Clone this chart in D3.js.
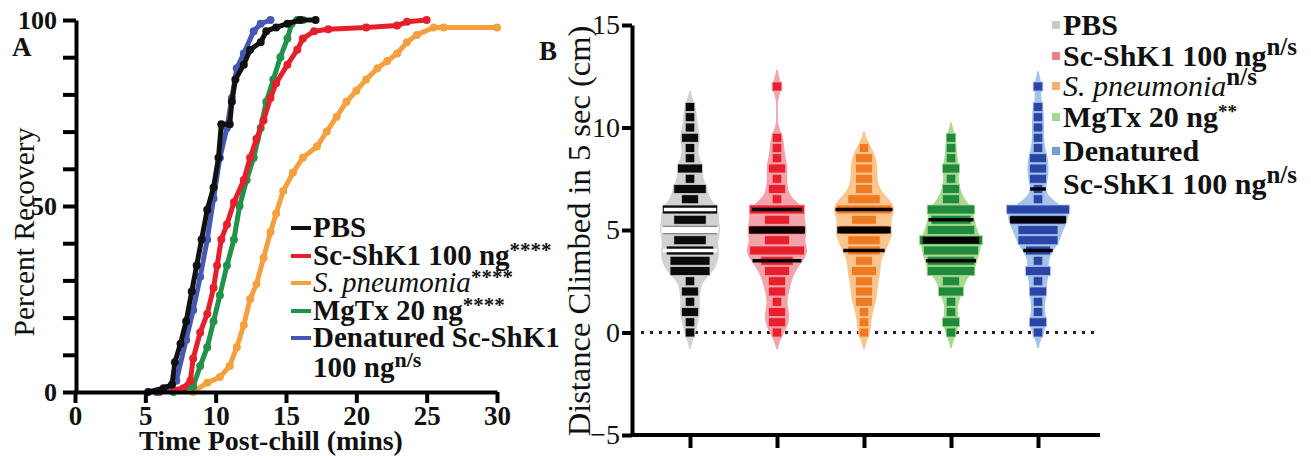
<!DOCTYPE html>
<html>
<head>
<meta charset="utf-8">
<script src="https://cdn.jsdelivr.net/npm/d3@7"></script>
<style>
body { margin: 0; background: #fff; }
svg text { font-family: "Liberation Serif", "Times New Roman", serif !important; fill: #111; }
</style>
</head>
<body>
<svg id="fig" width="1311" height="456"></svg>
<script>
// ---- panel A : recovery curves (time in mins, percent recovered) ----
var pbsTime  = [5.2, 6.3, 6.9, 7.1, 7.5, 7.9, 8.3, 8.65, 9.0, 9.4, 9.85, 10.2, 10.4, 11.0, 11.15, 11.4, 12.0, 12.45, 13.2, 13.6, 14.3, 15.1, 16.0, 17.1];
var pbsPct   = [0, 1, 2, 8, 13, 19, 27, 34, 41, 49, 55, 63, 72, 72, 78, 84, 88, 92, 94, 97, 98, 99, 100, 100];
var shkTime  = [6.0, 7.7, 8.2, 8.4, 8.9, 9.4, 9.85, 10.1, 10.4, 10.8, 11.3, 12.0, 12.45, 12.9, 13.4, 13.9, 14.3, 15.1, 15.8, 16.2, 17.0, 18.0, 20.7, 22.9, 23.6, 25.0];
var shkPct   = [0, 1, 3, 9, 16, 21, 28, 34, 41, 45, 51, 57, 63, 68, 73, 79, 83, 88, 92, 95, 97, 97.5, 98, 98.5, 99.5, 100];
var pneuTime = [8.4, 9.4, 10.3, 11.0, 11.5, 12.0, 12.45, 12.9, 13.4, 13.9, 14.3, 14.8, 15.5, 16.2, 17.2, 17.9, 18.6, 19.3, 20.0, 20.7, 21.5, 22.2, 22.9, 23.6, 24.3, 25.5, 26.2, 30.0];
var pneuPct  = [0, 2.5, 4, 7, 12, 18, 25, 29, 36, 43, 48, 54, 59, 63, 66, 70, 74, 78, 81, 84, 87, 89, 91, 94, 96, 98, 98, 98];
var mgtxTime = [7.0, 8.4, 8.9, 9.4, 9.85, 10.3, 10.8, 11.3, 11.7, 12.2, 12.7, 13.2, 13.6, 14.1, 14.6, 15.1, 15.4, 15.8, 16.2];
var mgtxPct  = [0, 1.5, 7, 12, 19, 26, 34, 41, 50, 57, 63, 71, 78, 84, 90, 95, 99, 100, 100];
var denTime  = [5.8, 6.5, 7.2, 7.9, 8.4, 8.9, 9.4, 9.85, 10.3, 10.8, 11.15, 11.5, 12.0, 12.7, 13.2, 13.9];
var denPct   = [0, 1, 3, 14, 22, 31, 41, 52, 63, 71, 79, 87, 91, 97, 99, 100];

var curveNames  = ["PBS", "Sc-ShK1 100 ng", "S. pneumonia", "MgTx 20 ng", "Denatured Sc-ShK1"];
var curveSig    = ["", "****", "****", "****", "n/s"];
var curveColors = ["#111111", "#e5202b", "#f5a03e", "#22924a", "#4758b2"];

// ---- panel B : distance climbed, counts of flies at each 0.5 cm level ----
var climbLevels = [0, 0.5, 1, 1.5, 2, 2.5, 3, 3.5, 4, 4.5, 5, 5.5, 6, 6.5, 7, 7.5, 8, 8.5, 9, 9.5, 10, 10.5, 11, 11.5, 12];
var pbsCounts   = [1, 1, 2, 1, 2, 1, 5, 5, 6, 4, 7, 4, 7, 2, 4, 1, 3, 1, 1, 2, 1, 1, 1, 0, 0];
var shkCounts   = [1, 2, 2, 1, 2, 2, 3, 4, 7, 3, 7, 3, 7, 1, 2, 1, 2, 1, 1, 1, 0, 0, 0, 0, 1];
var pneuCounts  = [1, 1, 1, 2, 2, 2, 3, 2, 4, 4, 6, 3, 7, 4, 2, 2, 2, 2, 1, 0, 0, 0, 0, 0, 0];
var mgtxCounts  = [1, 2, 1, 1, 3, 2, 6, 6, 7, 8, 6, 5, 6, 2, 2, 1, 2, 1, 1, 1, 0, 0, 0, 0, 0];
var denCounts   = [1, 2, 1, 1, 2, 1, 3, 1, 3, 5, 5, 7, 8, 1, 1, 2, 2, 2, 1, 1, 1, 1, 1, 0, 1];
var climbQ1     = [4, 3.5, 4, 3.5, 4];
var climbMedian = [5, 5, 5, 4.5, 5.5];
var climbQ3     = [6, 6, 6, 5.5, 7];

var groupNames   = ["PBS", "Sc-ShK1 100 ng", "S. pneumonia", "MgTx 20 ng", "Denatured"];
var groupSig     = ["", "n/s", "n/s", "**", ""];
var violinColors = ["#d2d2d2", "#f3a3aa", "#f9c690", "#a7d98f", "#a6c4ea"];
var dotColors    = ["#0a0a0a", "#e8202e", "#f07a24", "#1f8a3c", "#2a45a6"];
var keyColors    = ["#c8c8c8", "#f0808a", "#f8b06c", "#a2d891", "#6f9fd8"];

var FONT = "Liberation Serif, Times New Roman, serif";

var svg = d3.select("#fig");
svg.append("rect").attr("width", 1311).attr("height", 456).attr("fill", "#fff");

function styleAxis(g, size, weight) {
  g.attr("font-family", FONT).attr("font-size", size).attr("font-weight", weight);
  g.select(".domain").attr("stroke", "#000").attr("stroke-width", 4);
  g.selectAll(".tick line").attr("stroke", "#000").attr("stroke-width", 4);
  g.selectAll(".tick text")
    .attr("font-family", FONT)
    .attr("font-size", size)
    .attr("font-weight", weight)
    .attr("fill", "#111");
}

function addText(x, y, size, weight, str) {
  return svg.append("text")
    .attr("x", x).attr("y", y)
    .attr("font-family", FONT)
    .attr("font-size", size)
    .attr("font-weight", weight)
    .text(str);
}

// ================= PANEL A =================
var xA = d3.scaleLinear().domain([0, 30]).range([75, 497]);
var yA = d3.scaleLinear().domain([0, 100]).range([392, 20]);

var curves = [
  {t: pbsTime, p: pbsPct}, {t: shkTime, p: shkPct}, {t: pneuTime, p: pneuPct},
  {t: mgtxTime, p: mgtxPct}, {t: denTime, p: denPct}
].map(function(c, i) {
  return {color: curveColors[i], pts: c.t.map(function(t, j) { return [t, c.p[j]]; })};
});

var lineA = d3.line()
  .x(function(d) { return xA(d[0]); })
  .y(function(d) { return yA(d[1]); });

// draw order so black sits on top
[2, 3, 1, 4, 0].forEach(function(i) {
  var c = curves[i];
  svg.append("path")
    .datum(c.pts)
    .attr("d", lineA)
    .attr("fill", "none")
    .attr("stroke", c.color)
    .attr("stroke-width", 5)
    .attr("stroke-linejoin", "round");
  svg.append("g").selectAll("circle")
    .data(c.pts)
    .enter()
    .append("circle")
    .attr("cx", function(d) { return xA(d[0]); })
    .attr("cy", function(d) { return yA(d[1]); })
    .attr("r", 4)
    .attr("fill", c.color);
});

var axAx = svg.append("g")
  .attr("transform", "translate(0," + yA(0) + ")")
  .call(d3.axisBottom(xA).ticks(6).tickSize(11).tickSizeOuter(0));
styleAxis(axAx, 27, "bold");
axAx.selectAll(".tick text").attr("y", 33).attr("dy", 0);

var ayAx = svg.append("g")
  .attr("transform", "translate(" + (xA(0) + 1) + ",0)")
  .call(d3.axisLeft(yA).ticks(10).tickSize(13).tickSizeOuter(0)
    .tickFormat(function(d) { return d % 50 === 0 ? d : ""; }));
styleAxis(ayAx, 26, "bold");
ayAx.selectAll(".tick text").attr("x", -19);

addText(271, 450, 28, "bold", "Time Post-chill (mins)").attr("text-anchor", "middle");

svg.append("text")
  .attr("transform", "translate(34,232) rotate(-90)")
  .attr("text-anchor", "middle")
  .attr("font-family", FONT)
  .attr("font-size", 29.5)
  .text("Percent Recovery");

addText(12, 56, 27, "bold", "A");

// legend A
var legABase = [237, 265, 292, 320, 347];
curveNames.forEach(function(name, i) {
  var by = legABase[i];
  svg.append("line")
    .attr("x1", 291).attr("x2", 311)
    .attr("y1", by - 9).attr("y2", by - 9)
    .attr("stroke", curveColors[i]).attr("stroke-width", 4);
  var t = addText(313, by, 29, "bold", null);
  if (name.indexOf("pneumonia") >= 0) {
    t.append("tspan").attr("font-style", "italic").attr("font-weight", "normal").text(name);
  } else {
    t.append("tspan").text(name);
  }
  if (i < 4 && curveSig[i]) {
    t.append("tspan").attr("dy", -8).attr("font-size", 21).text(curveSig[i]);
  }
});
var lastA = addText(313, 377, 29, "bold", null);
lastA.append("tspan").text("100 ng");
lastA.append("tspan").attr("dy", -10).attr("font-size", 22).text(curveSig[4]);

// ================= PANEL B =================
var yB = d3.scaleLinear().domain([-5, 15]).range([435, 25]);
var xB = d3.scalePoint().domain(groupNames).range([690, 1038]);

// dotted zero line
svg.append("line")
  .attr("x1", 641).attr("x2", 1100)
  .attr("y1", yB(0)).attr("y2", yB(0))
  .attr("stroke", "#222").attr("stroke-width", 3)
  .attr("stroke-dasharray", "3,6");

var allCounts = [pbsCounts, shkCounts, pneuCounts, mgtxCounts, denCounts];
var bw = 0.42, maxHalf = 30, rowH = 9, ptW = 7.6, shapePow = 0.85;

function kde(values, v) {
  var s = 0;
  values.forEach(function(x) {
    var z = (v - x) / bw;
    s += Math.exp(-0.5 * z * z);
  });
  return s / (values.length * bw * Math.sqrt(2 * Math.PI));
}

var grid = d3.range(-2.5, 15.01, 0.05);

allCounts.forEach(function(counts, gi) {
  var cx = xB(groupNames[gi]);
  var vals = [];
  counts.forEach(function(c, k) { for (var n = 0; n < c; n++) vals.push(climbLevels[k]); });
  var dens = grid.map(function(v) { return [v, kde(vals, v)]; });
  var dmax = d3.max(dens, function(d) { return d[1]; });
  var halfW = function(v) { return maxHalf * Math.pow(kde(vals, v) / dmax, shapePow); };
  var shape = dens.map(function(d) { return [d[0], maxHalf * Math.pow(d[1] / dmax, shapePow)]; })
    .filter(function(d) { return d[1] > 0.8; });

  var area = d3.area()
    .curve(d3.curveBasis)
    .y(function(d) { return yB(d[0]); })
    .x0(function(d) { return cx - d[1]; })
    .x1(function(d) { return cx + d[1]; });

  svg.append("path")
    .datum(shape)
    .attr("d", area)
    .attr("fill", violinColors[gi]);

  var rows = climbLevels.map(function(l, k) { return {v: l, n: counts[k]}; })
    .filter(function(r) { return r.n > 0; });

  svg.append("g").selectAll("rect")
    .data(rows)
    .enter()
    .append("rect")
    .attr("x", function(d) { return cx - (d.n * ptW + 2) / 2; })
    .attr("y", function(d) { return yB(d.v) - rowH / 2; })
    .attr("width", function(d) { return d.n * ptW + 2; })
    .attr("height", rowH)
    .attr("fill", dotColors[gi])
    .attr("stroke", violinColors[gi])
    .attr("stroke-width", 0.8);

  var lineCol = gi === 0 ? "#ffffff" : "#000000";
  var stats = [
    {v: climbQ1[gi], h: 3.5}, {v: climbQ3[gi], h: 3.5}, {v: climbMedian[gi], h: 7}
  ];
  svg.append("g").selectAll("rect")
    .data(stats)
    .enter()
    .append("rect")
    .attr("x", function(d) { return cx - halfW(d.v) * 0.95; })
    .attr("y", function(d) { return yB(d.v) - d.h / 2; })
    .attr("width", function(d) { return halfW(d.v) * 1.9; })
    .attr("height", function(d) { return d.h; })
    .attr("fill", lineCol);
});

var ayBx = svg.append("g")
  .attr("transform", "translate(632,0)")
  .call(d3.axisLeft(yB).ticks(4).tickSize(10).tickSizeOuter(0));
styleAxis(ayBx, 28, "normal");
ayBx.selectAll(".tick text").attr("x", -12);

var axBx = svg.append("g")
  .attr("transform", "translate(0," + yB(-5) + ")")
  .call(d3.axisBottom(xB).tickSize(13).tickFormat(""));
styleAxis(axBx, 10, "normal");
axBx.select(".domain").remove();
axBx.append("line")
  .attr("x1", 630).attr("x2", 1100)
  .attr("stroke", "#000").attr("stroke-width", 4);

svg.append("text")
  .attr("transform", "translate(590,231) rotate(-90)")
  .attr("text-anchor", "middle")
  .attr("font-family", FONT)
  .attr("font-size", 32.5)
  .text("Distance Climbed in 5 sec (cm)");

addText(539, 60, 27, "bold", "B");

// legend B
var legBBase = [35, 66, 96, 127, 161];
groupNames.forEach(function(name, i) {
  var by = legBBase[i];
  svg.append("rect")
    .attr("x", 1052).attr("y", by - 14)
    .attr("width", 8).attr("height", 8)
    .attr("fill", keyColors[i]);
  var t = addText(1063, by, 30, "bold", null);
  if (name.indexOf("pneumonia") >= 0) {
    t.append("tspan").attr("font-style", "italic").attr("font-weight", "normal").text(name);
  } else {
    t.append("tspan").text(name);
  }
  if (groupSig[i]) {
    var star = groupSig[i] === "**";
    t.append("tspan").attr("dy", star ? -9 : -11)
      .attr("font-size", star ? 19 : 25).text(groupSig[i]);
  }
});
var lastB = addText(1063, 194, 30, "bold", null);
lastB.append("tspan").text("Sc-ShK1 100 ng");
lastB.append("tspan").attr("dy", -11).attr("font-size", 25).text("n/s");
</script>
</body>
</html>
